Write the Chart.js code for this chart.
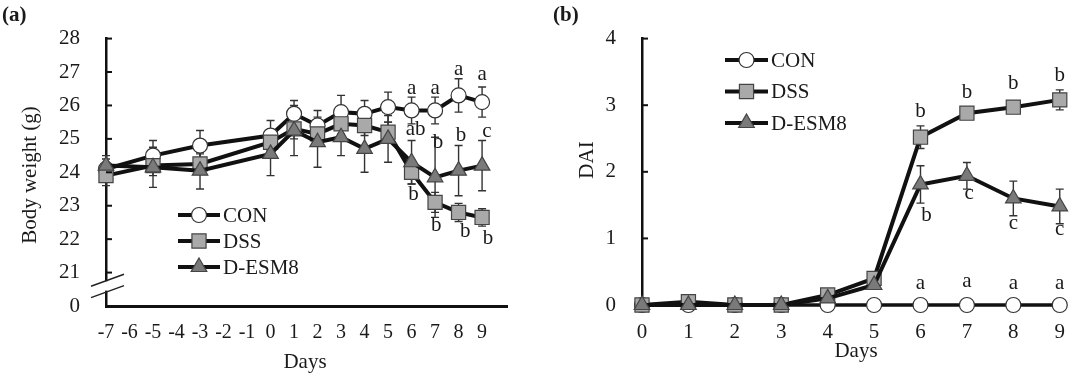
<!DOCTYPE html>
<html>
<head>
<meta charset="utf-8">
<script src="https://cdn.jsdelivr.net/npm/chart.js@4"></script>
<style>
html, body { margin: 0; padding: 0; background: #fff; }
#wrap { position: relative; width: 1080px; height: 378px; }
canvas { position: absolute; top: 0; }
</style>
</head>
<body>
<div id="wrap">
  <canvas id="chartA" width="540" height="378" style="left:0"></canvas>
  <canvas id="chartB" width="540" height="378" style="left:540px"></canvas>
</div>
<script>
// ---- panel (a): body weight ----
var daysA = [-7, -5, -3, 0, 1, 2, 3, 4, 5, 6, 7, 8, 9];
var conA = [24.1, 24.5, 24.8, 25.1, 25.75, 25.4, 25.8, 25.75, 25.95, 25.85, 25.85, 26.3, 26.1];
var conAErr = [0.3, 0.45, 0.45, 0.45, 0.4, 0.45, 0.5, 0.4, 0.45, 0.4, 0.4, 0.5, 0.45];
var dssA = [23.9, 24.2, 24.25, 24.9, 25.3, 25.15, 25.45, 25.4, 25.2, 24.0, 23.1, 22.8, 22.65];
var dssAErr = [0.3, 0.3, 0.3, 0.3, 0.3, 0.3, 0.3, 0.3, 0.3, 0.35, 0.3, 0.27, 0.26];
var esmA = [24.2, 24.15, 24.05, 24.55, 25.25, 24.9, 25.05, 24.7, 25.0, 24.3, 23.85, 24.05, 24.2];
var esmAErr = [0.3, 0.6, 0.55, 0.65, 0.75, 0.75, 0.55, 0.7, 0.7, 0.65, 1.2, 0.75, 0.75];
var xTicksA = [-7, -6, -5, -4, -3, -2, -1, 0, 1, 2, 3, 4, 5, 6, 7, 8, 9];
var yTicksA = [20, 21, 22, 23, 24, 25, 26, 27, 28];
var yLabelsA = ['0', '21', '22', '23', '24', '25', '26', '27', '28'];
var lettersA = [
  [6, 26.52, 'a'], [7, 26.52, 'a'], [8, 27.07, 'a'], [9, 26.93, 'a'],
  [6.17, 25.29, 'ab'], [7.12, 24.88, 'b'], [8.1, 25.1, 'b'], [9.2, 25.23, 'c'],
  [6.08, 23.34, 'b'], [7.05, 22.41, 'b'], [8.28, 22.22, 'b'], [9.25, 22.03, 'b']
];

// ---- panel (b): DAI ----
var daysB = [0, 1, 2, 3, 4, 5, 6, 7, 8, 9];
var conB = [0, 0, 0, 0, 0, 0, 0, 0, 0, 0];
var dssB = [0, 0.05, 0, 0, 0.15, 0.4, 2.52, 2.88, 2.97, 3.08];
var dssBErr = [0, 0, 0, 0, 0.03, 0.05, 0.17, 0.06, 0.04, 0.15];
var esmB = [0, 0, 0, 0, 0.1, 0.3, 1.81, 1.94, 1.6, 1.48];
var esmBErr = [0, 0, 0, 0, 0.03, 0.05, 0.28, 0.2, 0.26, 0.26];
var xTicksB = [0, 1, 2, 3, 4, 5, 6, 7, 8, 9];
var yTicksB = [0, 1, 2, 3, 4];
var lettersB = [
  [6, 2.9, 'b'], [7, 3.19, 'b'], [8, 3.32, 'b'], [9, 3.45, 'b'],
  [6.13, 1.34, 'b'], [7.05, 1.67, 'c'], [8, 1.23, 'c'], [9, 1.14, 'c'],
  [6, 0.33, 'a'], [7, 0.36, 'a'], [8, 0.33, 'a'], [9, 0.33, 'a']
];

var seriesNames = ['CON', 'DSS', 'D-ESM8'];
var SERIF = '"Liberation Serif", "Times New Roman", serif';
var INK = '#1a1a1a';

var markerStyles = [
  { pointStyle: 'circle', radius: 7.5, bg: '#ffffff', border: '#333333' },
  { pointStyle: 'rect', radius: 10, bg: '#a9a9a9', border: '#444444' },
  { pointStyle: 'triangle', radius: 9, bg: '#7a7a7a', border: '#444444' }
];

function toPoints(days, vals) {
  return days.map(function (d, i) { return { x: d, y: vals[i] }; });
}

function makeDataset(idx, days, vals, errs, lineWidth) {
  var m = markerStyles[idx];
  return {
    label: seriesNames[idx],
    data: toPoints(days, vals),
    errors: errs,
    borderColor: '#111111',
    borderWidth: lineWidth,
    pointStyle: m.pointStyle,
    pointRadius: m.radius,
    pointBackgroundColor: m.bg,
    pointBorderColor: m.border,
    pointBorderWidth: 1.2,
    tension: 0,
    clip: false,
    order: 3 - idx
  };
}

function drawMarker(ctx, idx, x, y) {
  var m = markerStyles[idx];
  ctx.save();
  ctx.fillStyle = m.bg;
  ctx.strokeStyle = m.border;
  ctx.lineWidth = 1.2;
  Chart.helpers.drawPoint(ctx, { pointStyle: m.pointStyle, radius: m.radius, rotation: 0, borderWidth: 1.2 }, x, y);
  ctx.restore();
}

// error bars, letters, legend, titles, inner ticks
var extras = {
  id: 'extras',
  beforeDatasetsDraw: function (chart) {
    var ctx = chart.ctx, xs = chart.scales.x, ys = chart.scales.y;
    ctx.save();
    ctx.strokeStyle = '#333';
    ctx.lineWidth = 1.4;
    chart.data.datasets.forEach(function (ds) {
      ds.data.forEach(function (p, i) {
        var e = ds.errors ? ds.errors[i] : 0;
        if (!e) return;
        var px = xs.getPixelForValue(p.x);
        var top = ys.getPixelForValue(p.y + e);
        var bot = ys.getPixelForValue(p.y - e);
        ctx.beginPath();
        ctx.moveTo(px, top); ctx.lineTo(px, bot);
        ctx.moveTo(px - 4, top); ctx.lineTo(px + 4, top);
        ctx.moveTo(px - 4, bot); ctx.lineTo(px + 4, bot);
        ctx.stroke();
      });
    });
    ctx.restore();
  },
  afterDraw: function (chart) {
    var o = chart.options.plugins.extras;
    var ctx = chart.ctx, xs = chart.scales.x, ys = chart.scales.y;
    ctx.save();

    // inward tick marks on the y axis
    ctx.strokeStyle = '#111';
    ctx.lineWidth = 2;
    o.innerTicks.forEach(function (v) {
      var py = ys.getPixelForValue(v);
      ctx.beginPath();
      ctx.moveTo(xs.left, py); ctx.lineTo(xs.left + 6, py);
      ctx.stroke();
    });

    // axis break
    if (o.axisBreak) {
      var y1 = ys.getPixelForValue(o.axisBreak[0]);
      var y2 = ys.getPixelForValue(o.axisBreak[1]);
      var ax = xs.left;
      ctx.fillStyle = '#fff';
      ctx.fillRect(ax - 3, y1 + 1, 6, y2 - y1 - 2);
      ctx.strokeStyle = '#222';
      ctx.lineWidth = 1.5;
      [y1, y2].forEach(function (yy) {
        ctx.beginPath();
        ctx.moveTo(ax - 15, yy + 6); ctx.lineTo(ax + 18, yy - 6);
        ctx.stroke();
      });
    }

    // significance letters
    ctx.fillStyle = INK;
    ctx.font = '21px ' + SERIF;
    ctx.textAlign = 'center';
    ctx.textBaseline = 'middle';
    o.letters.forEach(function (l) {
      ctx.fillText(l[2], xs.getPixelForValue(l[0]), ys.getPixelForValue(l[1]));
    });

    // legend
    var lg = o.legend;
    ctx.textAlign = 'left';
    seriesNames.forEach(function (name, i) {
      var ry = lg.y + i * lg.gap;
      ctx.strokeStyle = '#111';
      ctx.lineWidth = 4;
      ctx.beginPath();
      ctx.moveTo(lg.x, ry); ctx.lineTo(lg.x + lg.len, ry);
      ctx.stroke();
      drawMarker(ctx, i, lg.x + lg.len / 2, ry);
      ctx.fillStyle = INK;
      ctx.fillText(name, lg.x + lg.len + 3, ry + 1);
    });

    // axis titles and panel tag
    ctx.textAlign = 'center';
    ctx.fillText('Days', o.xTitle[0], o.xTitle[1]);
    ctx.save();
    ctx.translate(o.yTitle[0], o.yTitle[1]);
    ctx.rotate(-Math.PI / 2);
    ctx.fillText(o.yTitle[2], 0, 0);
    ctx.restore();
    ctx.textAlign = 'left';
    ctx.font = 'bold 21px ' + SERIF;
    ctx.fillText(o.tag[2], o.tag[0], o.tag[1]);
    ctx.restore();
  }
};

function buildChart(id, cfg) {
  return new Chart(document.getElementById(id), {
    type: 'line',
    data: { datasets: cfg.datasets },
    plugins: [extras],
    options: {
      responsive: false,
      animation: false,
      layout: { padding: cfg.padding },
      plugins: { legend: { display: false }, tooltip: { enabled: false }, extras: cfg.extras },
      scales: {
        x: {
          type: 'linear',
          min: cfg.xMin, max: cfg.xMax,
          afterBuildTicks: function (s) { s.ticks = cfg.xTicks.map(function (v) { return { value: v }; }); },
          afterFit: function (s) { s.height = cfg.xHeight; },
          grid: { display: false, drawTicks: false },
          border: { display: cfg.xBorder, color: '#111', width: 3 },
          ticks: { autoSkip: false, maxRotation: 0, padding: 15, color: INK, font: { family: SERIF, size: cfg.xFont } }
        },
        y: {
          min: cfg.yMin, max: cfg.yMax,
          afterBuildTicks: function (s) { s.ticks = cfg.yTicks.map(function (v) { return { value: v }; }); },
          afterFit: function (s) { s.width = cfg.yWidth; },
          grid: { display: false, drawTicks: false },
          border: { display: true, color: '#111', width: 2.5 },
          ticks: {
            padding: 26, color: INK, font: { family: SERIF, size: 21 },
            callback: function (v, i) { return cfg.yLabels[i]; }
          }
        }
      }
    }
  });
}

buildChart('chartA', {
  datasets: [
    makeDataset(0, daysA, conA, conAErr, 4),
    makeDataset(1, daysA, dssA, dssAErr, 4),
    makeDataset(2, daysA, esmA, esmAErr, 4)
  ],
  padding: { top: 18, right: 33, left: 0, bottom: 0 },
  xMin: -7, xMax: 10.06, xTicks: xTicksA, xHeight: 72, xBorder: true, xFont: 20,
  yMin: 20, yMax: 28, yTicks: yTicksA, yLabels: yLabelsA, yWidth: 106,
  extras: {
    innerTicks: [21, 22, 23, 24, 25, 26, 27, 28],
    axisBreak: [20.77, 20.43],
    letters: lettersA,
    legend: { x: 178, y: 215, gap: 26, len: 42 },
    xTitle: [305, 362],
    yTitle: [30, 175, 'Body weight (g)'],
    tag: [2, 16, '(a)']
  }
});

buildChart('chartB', {
  datasets: [
    makeDataset(0, daysB, conB, null, 3.5),
    makeDataset(1, daysB, dssB, dssBErr, 4),
    makeDataset(2, daysB, esmB, esmBErr, 4)
  ],
  padding: { top: 13, right: 10, left: 0, bottom: 0 },
  xMin: 0, xMax: 9, xTicks: xTicksB, xHeight: 73, xBorder: false, xFont: 21,
  yMin: 0, yMax: 4, yTicks: yTicksB, yLabels: yTicksB.map(String), yWidth: 102,
  extras: {
    innerTicks: [1, 2, 3, 4],
    axisBreak: null,
    letters: lettersB,
    legend: { x: 185, y: 60, gap: 31.5, len: 43 },
    xTitle: [316, 351],
    yTitle: [47, 160, 'DAI'],
    tag: [13, 16, '(b)']
  }
});
</script>
</body>
</html>
